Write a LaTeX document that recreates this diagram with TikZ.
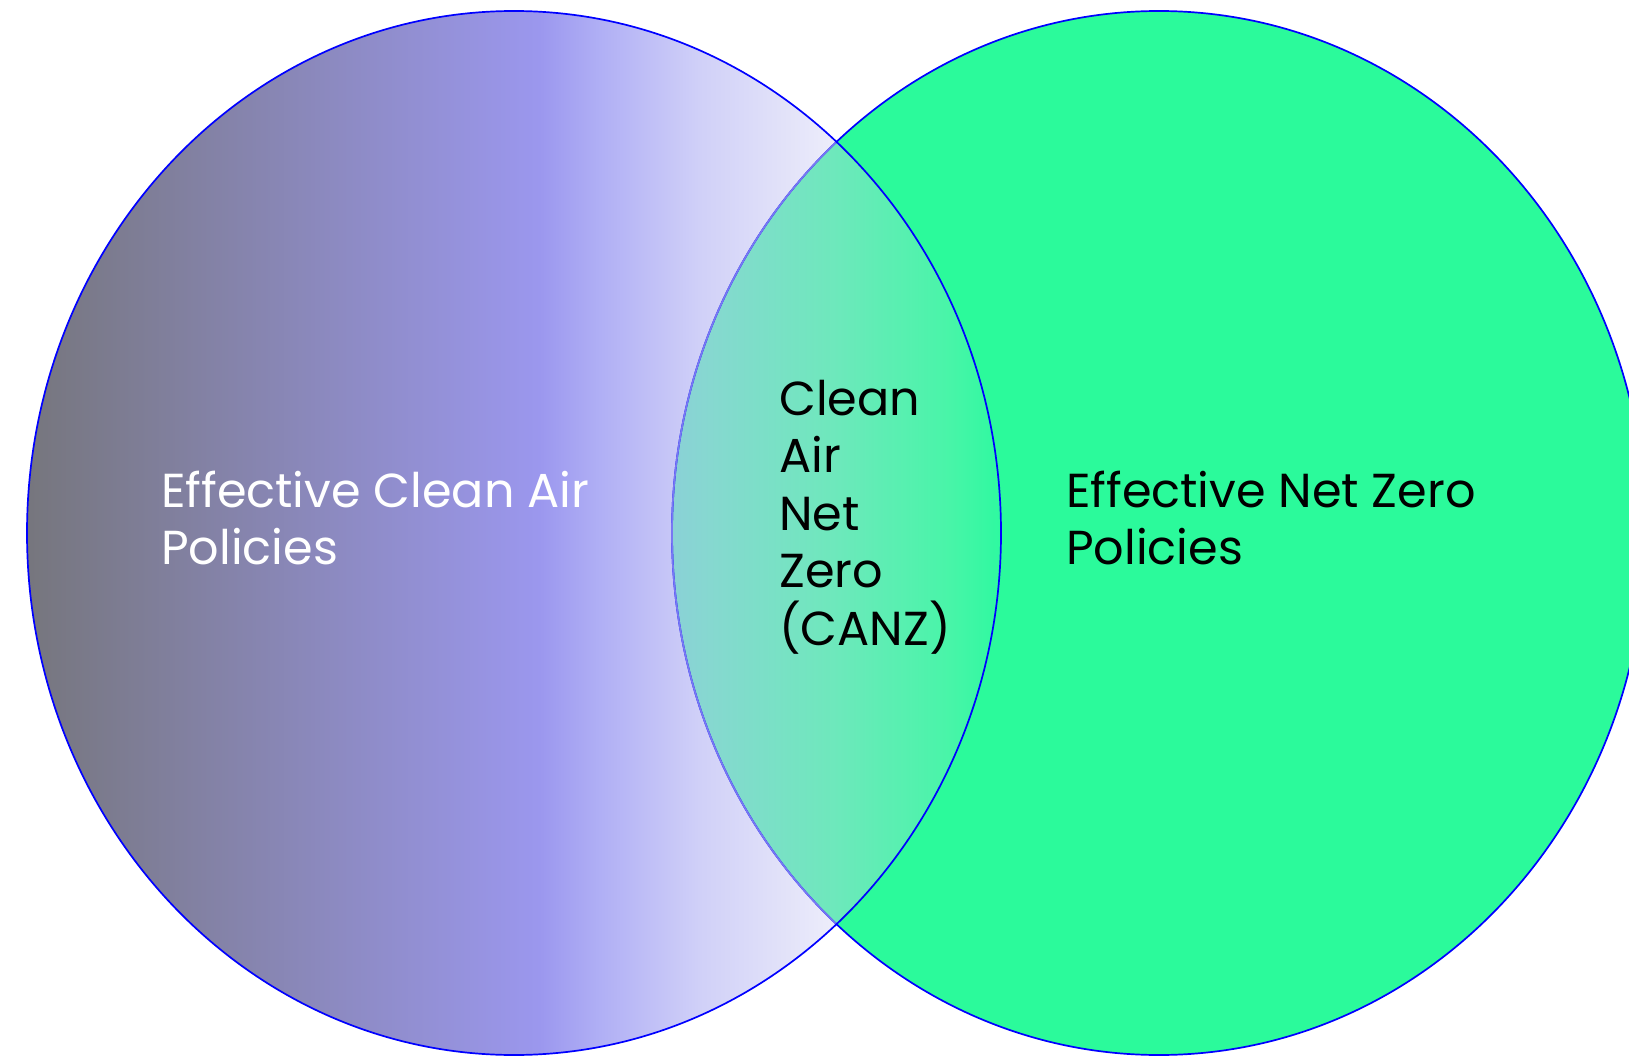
\documentclass[tikz,border=0pt]{standalone}
\usepackage{fontspec}
\setmainfont{Poppins}
\definecolor{cA}{HTML}{76767D}
\definecolor{cB}{HTML}{9B97EE}
\definecolor{cC}{HTML}{B0AFF5}
\definecolor{cD}{HTML}{D0D0F8}
\definecolor{cE}{HTML}{ECECFA}
\definecolor{cF}{HTML}{FCFCFF}
\definecolor{mA}{HTML}{8AD1D6}
\definecolor{mB}{HTML}{86D8D0}
\definecolor{mC}{HTML}{6EE8BC}
\definecolor{mD}{HTML}{48F5A8}
\definecolor{mE}{HTML}{2EF9A0}
\definecolor{nzgreen}{HTML}{2BFA9B}
\definecolor{ringblue}{HTML}{0000FF}
\definecolor{ringlight}{HTML}{7878F2}
\pgfdeclarehorizontalshading{leftgrad}{100bp}{color(0bp)=(cA); color(25bp)=(cA); color(51.3bp)=(cB); color(54.4bp)=(cC); color(59.5bp)=(cD); color(66.2bp)=(cE); color(75bp)=(cF); color(100bp)=(cF)}
\pgfdeclarehorizontalshading{midgrad}{100bp}{color(0bp)=(mA); color(25bp)=(mA); color(30.6bp)=(mB); color(49.4bp)=(mC); color(67.2bp)=(mD); color(75bp)=(mE); color(100bp)=(mE)}
\tikzset{
  ring/.style={draw=ringblue, line width=1.7pt},
  label/.style={anchor=base west, inner sep=0pt, font=\fontsize{47.7}{57}\selectfont},
}
\begin{document}
\begin{tikzpicture}[x=1pt,y=-1pt]
\useasboundingbox (0,0) rectangle (1629,1056);
\clip (0,0) rectangle (1629,1056);
% left circle with gradient
\shade[shading=leftgrad] (514,533) ellipse [x radius=487, y radius=522];
% right circle
\fill[nzgreen] (1159,533) ellipse [x radius=487, y radius=522];
% intersection
\begin{scope}
  \clip (514,533) ellipse [x radius=487, y radius=522];
  \clip (1159,533) ellipse [x radius=487, y radius=522];
  \shade[shading=midgrad] (673,0) rectangle (1001,1056);
\end{scope}
% outlines
\draw[ring] (1159,533) ellipse [x radius=487, y radius=522];
\begin{scope}
  \clip (514,533) ellipse [x radius=487, y radius=522];
  \draw[ring, draw=ringlight] (1159,533) ellipse [x radius=487, y radius=522];
\end{scope}
\draw[ring] (514,533) ellipse [x radius=487, y radius=522];
% labels
\node[label, text=white] (ca) at (161,507) {\parbox[t]{600pt}{\raggedright Effective Clean Air\\Policies}};
\node[label, text=black] (nz) at (1066,507) {\parbox[t]{600pt}{\raggedright Effective Net Zero\\Policies}};
\node[label, text=black, font=\fontsize{47.7}{57.5}\selectfont] (canz) at (779,415) {\parbox[t]{300pt}{\raggedright Clean\\Air\\Net\\Zero\\(CANZ)}};
\end{tikzpicture}
\end{document}
